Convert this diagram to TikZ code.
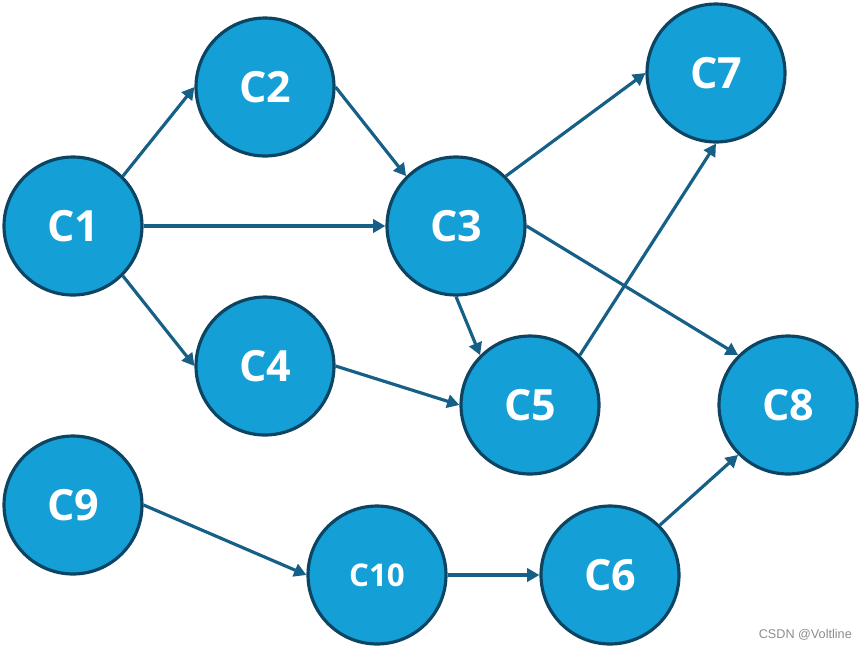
\documentclass[tikz,border=0pt]{standalone}
\usepackage{fontspec}
\setmainfont{Open Sans}
\newfontfamily\markfont{Liberation Sans}
\usetikzlibrary{arrows.meta}
\definecolor{cfill}{RGB}{20,159,214}
\definecolor{cborder}{RGB}{12,68,98}
\definecolor{cline}{RGB}{22,96,136}
\tikzset{
  cnode/.style={circle, draw=cborder, fill=cfill, line width=1.8pt,
                minimum size=2.76cm, inner sep=0pt, text=white,
                font=\bfseries\fontsize{24.5}{26}\selectfont},
  csmall/.style={font=\bfseries\fontsize{17.8}{19}\selectfont},
  cedge/.style={cline, line width=1.8pt, -{Triangle[length=7pt,width=7.5pt]}},
  wmark/.style={font=\markfont\fontsize{7.2}{8}\selectfont, text=black!45},
}
\begin{document}
\begin{tikzpicture}[x=0.02cm,y=-0.02cm]
  \useasboundingbox (0,0) rectangle (866,650);
  \node[cnode] (c1) at (73,226) {C1};
  \node[cnode] (c2) at (265,87) {C2};
  \node[cnode] (c3) at (456,226) {C3};
  \node[cnode] (c4) at (265,366) {C4};
  \node[cnode] (c5) at (530,405) {C5};
  \node[cnode] (c7) at (716,73) {C7};
  \node[cnode] (c8) at (788,405) {C8};
  \node[cnode] (c9) at (73,505) {C9};
  \node[cnode,csmall] (c10) at (377,575) {C10};
  \node[cnode] (c6) at (610,575) {C6};
  % edges
  \draw[cedge] (c1.45) -- (c2.west);
  \draw[cedge] (c1.east) -- (c3.west);
  \draw[cedge] (c1.-45) -- (c4.west);
  \draw[cedge] (c2.east) -- (c3.135);
  \draw[cedge] (c3.45) -- (c7.west);
  \draw[cedge] (c3.east) -- (c8.135);
  \draw[cedge] (c3.south) -- (c5.135);
  \draw[cedge] (c4.east) -- (c5.west);
  \draw[cedge] (c5.45) -- (c7.south);
  \draw[cedge] (c9.east) -- (c10.west);
  \draw[cedge] (c10.east) -- (c6.west);
  \draw[cedge] (c6.45) -- (c8.-135);
  \node[wmark, anchor=east] (mark) at (858,635) {CSDN @Voltline};
\end{tikzpicture}
\end{document}
